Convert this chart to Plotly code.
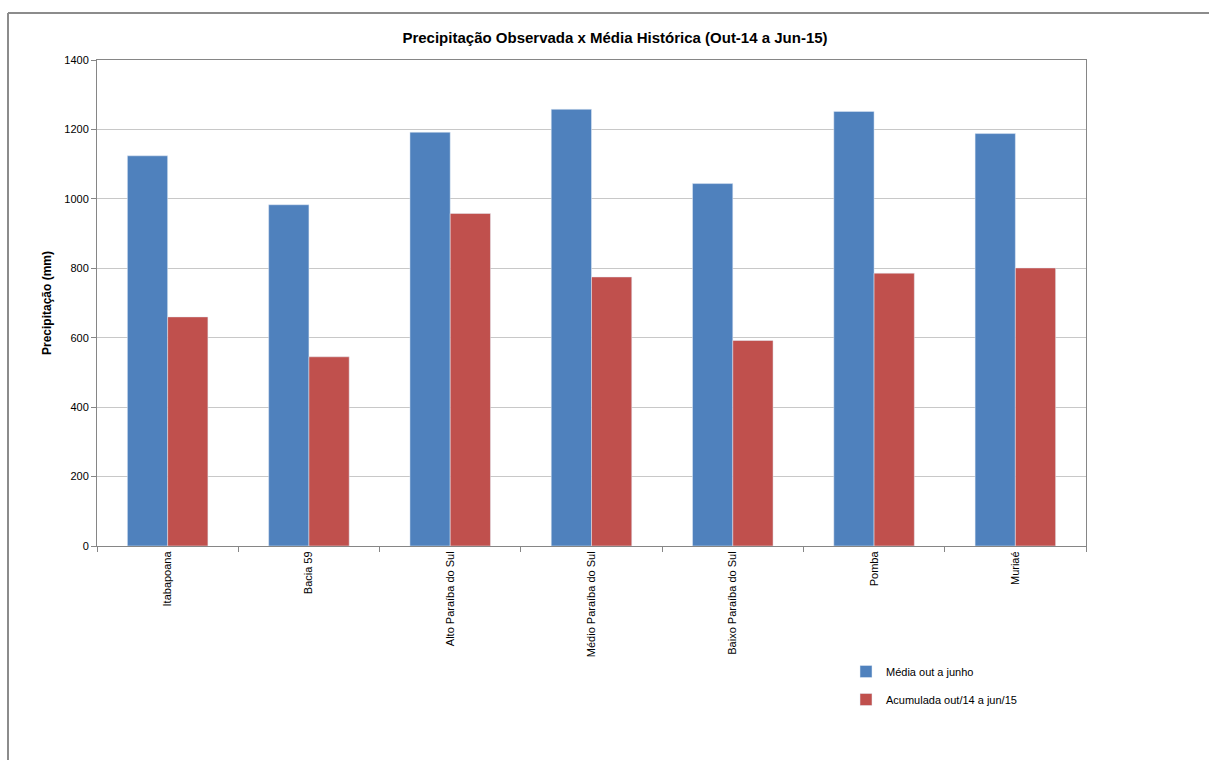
import plotly.graph_objects as go

# Precipitation by basin: historical average vs. accumulated Oct/14–Jun/15
categories = ["Itabapoana", "Bacia 59", "Alto Paraíba do Sul", "Médio Paraíba do Sul",
              "Baixo Paraíba do Sul", "Pomba", "Muriaé"]
media_historica = [1124, 983, 1192, 1258, 1044, 1252, 1188]
acumulada = [660, 545, 958, 775, 592, 786, 801]

series_names = ["Média out a junho", "Acumulada out/14 a jun/15"]
y_ticks = [0, 200, 400, 600, 800, 1000, 1200, 1400]

FONT = "Liberation Sans"
W, H = 1209, 760
L, R, T, B = 97, 123, 60, 214
plot_w, plot_h = W - L - R, H - T - B


def px_x(px):
    return (px - L) / plot_w


def px_y(py):
    return (H - B - py) / plot_h


fig = go.Figure()
fig.add_trace(go.Bar(x=categories, y=media_historica, name=series_names[0],
                     marker_color="#4F81BD", legendgroup="a"))
fig.add_trace(go.Bar(x=categories, y=acumulada, name=series_names[1],
                     marker_color="#C0504D", legendgroup="b"))

fig.update_layout(
    width=W, height=H,
    margin=dict(l=L, r=R, t=T, b=B),
    paper_bgcolor="white", plot_bgcolor="white",
    barmode="group", bargap=0.43, bargroupgap=0,
    font=dict(family=FONT, color="#000000"),
    title=dict(text="<b>Precipitação Observada x Média Histórica (Out-14 a Jun-15)</b>",
               x=px_x(615), xref="paper", xanchor="center",
               y=1 - 38 / H, yanchor="middle",
               font=dict(size=15, family=FONT)),
    showlegend=True,
    legend=dict(x=px_x(846), y=px_y(657), xanchor="left", yanchor="top",
                font=dict(size=11, family=FONT), tracegroupgap=9,
                itemwidth=30, bgcolor="rgba(0,0,0,0)"),
    shapes=[
        dict(type="line", xref="paper", yref="paper",
             x0=px_x(8), x1=px_x(W + 2), y0=px_y(13), y1=px_y(13),
             line=dict(color="#8C8C8C", width=2)),
        dict(type="line", xref="paper", yref="paper",
             x0=px_x(8), x1=px_x(8), y0=px_y(13), y1=px_y(H + 2),
             line=dict(color="#8C8C8C", width=2)),
    ],
)

fig.update_xaxes(
    type="category", tickangle=-90, tickfont=dict(size=11, family=FONT),
    showline=True, linecolor="#868686", linewidth=1, mirror=True,
    ticks="outside", tickson="boundaries", ticklen=5, tickcolor="#868686",
    showgrid=False,
)
fig.update_yaxes(
    range=[0, 1400], tickvals=y_ticks, ticktext=[str(v) for v in y_ticks],
    tickfont=dict(size=11, family=FONT),
    showline=True, linecolor="#868686", linewidth=1, mirror=True,
    ticks="outside", ticklen=5, tickcolor="#868686",
    showgrid=True, gridcolor="#C8C8C8", gridwidth=1, zeroline=False,
    title=dict(text="<b>Precipitação (mm)</b>", font=dict(size=12, family=FONT),
               standoff=10),
)

fig.write_html("out.html")
